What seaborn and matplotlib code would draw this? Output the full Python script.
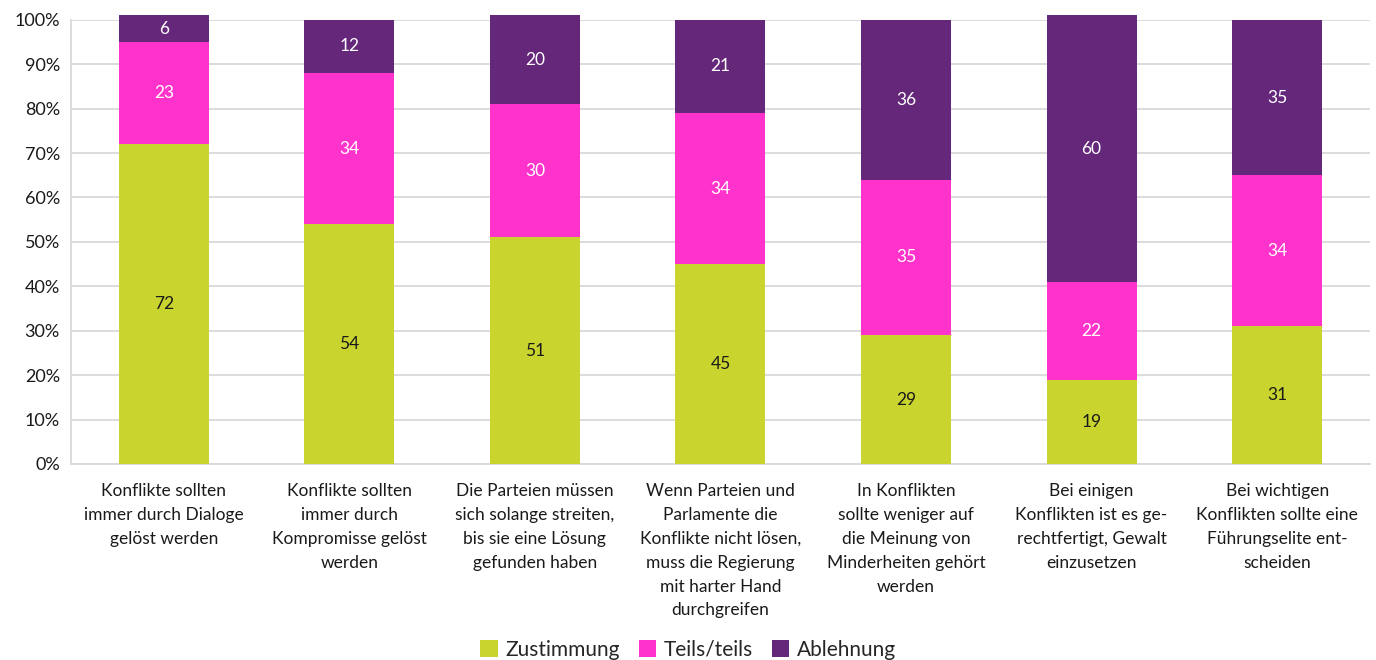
import numpy as np
import pandas as pd
import matplotlib
matplotlib.use("Agg")
import matplotlib.pyplot as plt
import seaborn as sns
from matplotlib.patches import Patch
from matplotlib.ticker import PercentFormatter

# ---------------------------------------------------------------------------
# Data
# ---------------------------------------------------------------------------

CATEGORIES = [
    "Konflikte sollten\nimmer durch Dialoge\ngelöst werden",
    "Konflikte sollten\nimmer durch\nKompromisse gelöst\nwerden",
    "Die Parteien müssen\nsich solange streiten,\nbis sie eine Lösung\ngefunden haben",
    "Wenn Parteien und\nParlamente die\nKonflikte nicht lösen,\nmuss die Regierung\nmit harter Hand\ndurchgreifen",
    "In Konflikten\nsollte weniger auf\ndie Meinung von\nMinderheiten gehört\nwerden",
    "Bei einigen\nKonflikten ist es ge-\nrechtfertigt, Gewalt\neinzusetzen",
    "Bei wichtigen\nKonflikten sollte eine\nFührungselite ent-\nscheiden",
]
ZUSTIMMUNG  = [72, 54, 51, 45, 29, 19, 31]
TEILS_TEILS = [23, 34, 30, 34, 35, 22, 34]
ABLEHNUNG   = [6, 12, 20, 21, 36, 60, 35]

SERIES = ["Zustimmung", "Teils/teils", "Ablehnung"]
COLORS = ["#C9D52E", "#FF33CC", "#65277A"]
TEXT_COLORS = ["#1a1a1a", "white", "white"]

# ---------------------------------------------------------------------------
# Plot
# ---------------------------------------------------------------------------

sns.set_theme(style="white")
plt.rcParams["font.family"] = ["Lato", "DejaVu Sans"]

df = pd.DataFrame({
    "cat": CATEGORIES,
    "Zustimmung": ZUSTIMMUNG,
    "Teils/teils": TEILS_TEILS,
    "Ablehnung": ABLEHNUNG,
})
cum = df[SERIES].cumsum(axis=1)

fig = plt.figure(figsize=(13.76, 6.6), dpi=100)
ax = fig.add_axes([0.0516, 0.297, 0.944, 0.673])

# draw back to front: full stack first, then the lower parts on top
for i in reversed(range(len(SERIES))):
    sns.barplot(
        x=df["cat"], y=cum[SERIES[i]], color=COLORS[i],
        width=0.485, saturation=1, ax=ax, zorder=3,
    )
for p in ax.patches:
    p.set_clip_on(False)
    p.set_edgecolor("none")

# segment labels
for j in range(len(df)):
    bottom = 0
    for i, s in enumerate(SERIES):
        v = df[s].iloc[j]
        ax.text(j, bottom + v / 2, f"{v}", ha="center", va="center",
                fontsize=12.5, color=TEXT_COLORS[i], zorder=5)
        bottom += v

ax.set_ylim(0, 100)
ax.set_xlim(-0.5, len(df) - 0.5)
ax.set_yticks(np.arange(0, 101, 10))
ax.yaxis.set_major_formatter(PercentFormatter(decimals=0))
ax.grid(axis="y", color="#D9D9D9", linewidth=1.3, zorder=0)
ax.set_axisbelow(True)
ax.set_xlabel("")
ax.set_ylabel("")

for side in ["top", "right"]:
    ax.spines[side].set_visible(False)
for side in ["left", "bottom"]:
    ax.spines[side].set_color("#D9D9D9")
    ax.spines[side].set_linewidth(1.3)

ax.tick_params(axis="y", length=0, labelsize=13, colors="#1a1a1a", pad=8)
ax.tick_params(axis="x", length=0, labelsize=12.5, colors="#1a1a1a", pad=14)
for lbl in ax.get_xticklabels():
    lbl.set_linespacing(1.6)

handles = [Patch(facecolor=c, edgecolor="none", label=s) for s, c in zip(SERIES, COLORS)]
fig.legend(handles=handles, loc="lower center", bbox_to_anchor=(0.5, -0.028),
           ncol=3, frameon=False, fontsize=15, handlelength=0.85, handleheight=0.85,
           handletextpad=0.35, columnspacing=0.9)

plt.savefig("out.png", dpi=100)
plt.close()
